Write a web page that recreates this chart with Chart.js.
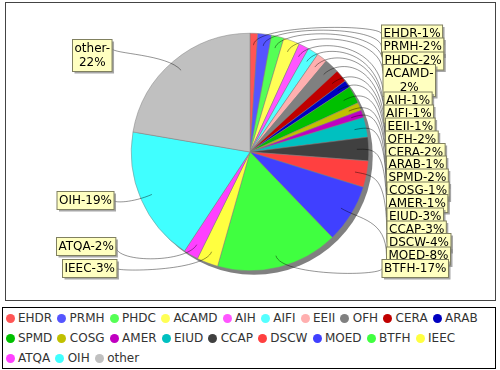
<!DOCTYPE html>
<html>
<head>
<meta charset="utf-8">
<script src="https://cdn.jsdelivr.net/npm/chart.js@4"></script>
<style>
  body { margin: 0; background: #fff; }
  #wrap { position: relative; width: 500px; height: 370px; overflow: hidden; }
  #legend {
    position: absolute; left: 1.5px; top: 307px; width: 489px; height: 60px;
    border: 1px solid #000; padding: 0 0 0 3px;
    font: 12px "DejaVu Sans", sans-serif; color: #333; line-height: 20px;
  }
  #legend span.item { display: inline-block; margin-right: 5.1px; white-space: nowrap; }
  #legend i {
    display: inline-block; width: 9px; height: 9px; border-radius: 50%;
    margin-right: 3.4px; vertical-align: -0.5px;
  }
</style>
</head>
<body>
<div id="wrap">
  <canvas id="pie" width="500" height="305"></canvas>
  <div id="legend"></div>
</div>
<script>
const categories = ["EHDR", "PRMH", "PHDC", "ACAMD", "AIH", "AIFI", "EEII", "OFH", "CERA", "ARAB", "SPMD",
  "COSG", "AMER", "EIUD", "CCAP", "DSCW", "MOED", "BTFH", "IEEC", "ATQA", "OIH", "other"];
const shares = [1.05, 1.85, 1.7, 2.2, 1.4, 1.45, 1.45, 2.0, 1.7, 1.0, 2.4,
  1.1, 1.0, 2.7, 3.2, 3.6, 8.0, 16.6, 2.9, 2.0, 18.4, 22.3];
const percentLabels = [1, 2, 2, 2, 1, 1, 1, 2, 2, 1, 2, 1, 1, 3, 3, 4, 8, 17, 3, 2, 19, 22];
const colors = ["#FF5555", "#5555FF", "#55FF55", "#FFFF55", "#FF55FF", "#55FFFF", "#FFAFAF", "#808080", "#C00000", "#0000C0", "#00C000",
  "#C0C000", "#C000C0", "#00C0C0", "#404040", "#FF4040", "#4040FF", "#40FF40", "#FFFF40", "#FF40FF", "#40FFFF", "#C0C0C0"];

// hand placed label boxes, left/top in px, same order as categories
const labelSlots = [[381.5, 25], [381.5, 38], [382.5, 52], [383, 64.5], [384, 92], [384, 105], [385.5, 118], [385.5, 131],
  [386, 143.5], [386.5, 156], [386.5, 169], [387, 182], [386.5, 194.5], [387, 208], [387, 221], [387, 233.5], [386.5, 247],
  [382, 259.5], [62.5, 259.5], [56.5, 237.5], [57, 191.5], [72.5, 39.5]];
const wrapped = ["ACAMD", "other"];

const FONT = '12px "DejaVu Sans", sans-serif';

const frame = {
  id: "frame",
  beforeDraw(chart) {
    const c = chart.ctx;
    c.save();
    c.fillStyle = "#fff";
    c.fillRect(0, 0, 500, 305);
    c.strokeStyle = "#444";
    c.lineWidth = 1;
    c.strokeRect(5.5, 2.5, 490, 298);
    c.restore();
  },
  beforeDatasetsDraw(chart) {
    const a = chart.getDatasetMeta(0).data[0];
    const c = chart.ctx;
    c.save();
    c.fillStyle = "#808080";
    c.beginPath();
    c.arc(a.x + 4, a.y + 4, a.outerRadius, 0, Math.PI * 2);
    c.fill();
    c.restore();
  },
};

const pieLabels = {
  id: "pieLabels",
  afterDatasetsDraw(chart) {
    const c = chart.ctx;
    const arcs = chart.getDatasetMeta(0).data;
    c.save();
    c.font = FONT;
    // links go first, boxes sit on top of them
    arcs.forEach((a, i) => {
      const box = boxFor(c, i);
      const mid = (a.startAngle + a.endAngle) / 2;
      const r = a.outerRadius;
      const linkX = a.x + Math.cos(mid) * r * 0.9;
      const linkY = a.y + Math.sin(mid) * r * 0.9;
      const elbowX = a.x + Math.cos(mid) * r * 1.08;
      const elbowY = a.y + Math.sin(mid) * r * 1.08;
      const right = Math.cos(mid) > 0;
      const tx = right ? box.x : box.x + box.w;
      const ty = box.y + 9;
      c.strokeStyle = "rgba(0,0,0,0.6)";
      c.lineWidth = 0.7;
      c.beginPath();
      c.moveTo(linkX, linkY);
      c.bezierCurveTo(elbowX, elbowY, tx, elbowY, tx, ty);
      c.stroke();
    });
    arcs.forEach((a, i) => {
      const box = boxFor(c, i);
      c.fillStyle = "rgba(128,128,128,0.7)";
      c.fillRect(box.x + 2, box.y + 2, box.w, box.h);
      c.fillStyle = "#FFFFC0";
      c.fillRect(box.x, box.y, box.w, box.h);
      c.strokeStyle = "#808060";
      c.lineWidth = 1;
      c.strokeRect(box.x, box.y, box.w, box.h);
      c.fillStyle = "#000";
      c.textAlign = "center";
      c.textBaseline = "middle";
      box.lines.forEach((t, k) => c.fillText(t, box.x + box.w / 2, box.y + 9 + k * 14));
    });
    c.restore();
  },
};

function boxFor(c, i) {
  const name = categories[i];
  const pct = percentLabels[i] + "%";
  const lines = wrapped.includes(name) ? [name + "-", pct] : [name + "-" + pct];
  const w = Math.max(...lines.map((t) => c.measureText(t).width)) + 4;
  return { x: labelSlots[i][0], y: labelSlots[i][1], w: w, h: 18 + (lines.length - 1) * 14, lines: lines };
}

new Chart(document.getElementById("pie"), {
  type: "pie",
  data: {
    labels: categories,
    datasets: [{ data: shares, backgroundColor: colors, borderColor: "#808080", borderWidth: 0.5 }],
  },
  options: {
    responsive: false,
    animation: false,
    layout: { padding: { left: 131, right: 131, top: 33, bottom: 34 } },
    plugins: { legend: { display: false }, tooltip: { enabled: false } },
  },
  plugins: [frame, pieLabels],
});

const legend = document.getElementById("legend");
categories.forEach((name, i) => {
  const item = document.createElement("span");
  item.className = "item";
  item.innerHTML = '<i style="background:' + colors[i] + '"></i>' + name;
  legend.appendChild(item);
});
</script>
</body>
</html>
